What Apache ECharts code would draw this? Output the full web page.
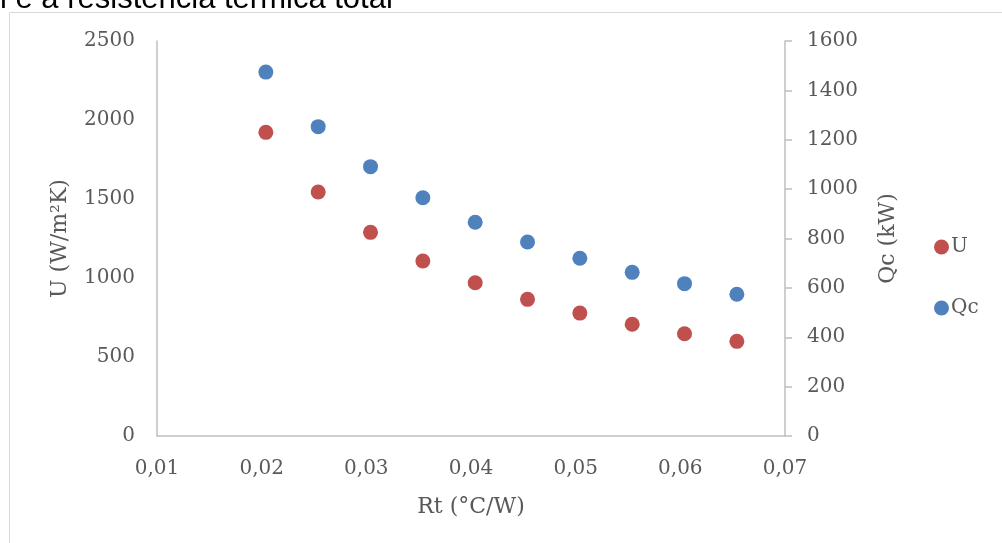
<!DOCTYPE html>
<html>
<head>
<meta charset="utf-8">
<script src="https://cdn.jsdelivr.net/npm/echarts@6/dist/echarts.min.js"></script>
<style>
  html, body { margin: 0; padding: 0; background: #fff; }
  #chart { width: 1002px; height: 543px; }
</style>
</head>
<body>
<div id="chart"></div>
<script>
// Rt (°C/W)
var rt = [0.0204, 0.0254, 0.0304, 0.0354, 0.0404, 0.0454, 0.0504, 0.0554, 0.0604, 0.0654];
// U (W/m²K)
var uVals = [1922, 1544, 1289, 1108, 970, 865, 778, 707, 647, 599];
// Qc (kW)
var qcVals = [1474, 1253, 1091, 965, 866, 786, 720, 663, 617, 574];

var chart = echarts.init(document.getElementById('chart'));

var axisFont = 'DejaVu Serif';
var gray = '#595959';
var lineGray = '#BFBFBF';

function pairs(xs, ys) {
    return xs.map(function (x, i) { return [x, ys[i]]; });
}

function plain(v) { return String(v); }

chart.setOption({
    animation: false,
    textStyle: { fontFamily: axisFont },
    graphic: [
        {
            type: 'rect',
            shape: { x: 9.5, y: 12.5, width: 1000, height: 540 },
            style: { fill: 'none', stroke: '#D9D9D9', lineWidth: 1 },
            silent: true
        },
        {
            type: 'text',
            style: {
                text: 'l e a resistência térmica total',
                x: 0,
                y: -1,
                verticalAlign: 'middle',
                font: '31px "Liberation Sans"',
                fill: '#000'
            },
            silent: true
        }
    ],
    legend: {
        orient: 'vertical',
        left: 929,
        top: 232,
        itemGap: 41,
        itemWidth: 15,
        itemHeight: 15,
        icon: 'circle',
        textStyle: { fontFamily: axisFont, fontSize: 20, color: gray, padding: [0, 0, 0, -3] },
        data: ['U', 'Qc']
    },
    grid: {
        left: 157,
        right: 217,
        top: 41,
        bottom: 107,
        containLabel: false
    },
    xAxis: {
        type: 'value',
        min: 0.01,
        max: 0.07,
        interval: 0.01,
        name: 'Rt (°C/W)',
        nameLocation: 'middle',
        nameGap: 60,
        nameTextStyle: { fontFamily: axisFont, fontSize: 22, color: gray },
        axisLine: { show: true, lineStyle: { color: lineGray, width: 1.5 } },
        axisTick: { show: false },
        splitLine: { show: false },
        axisLabel: {
            margin: 23,
            fontSize: 20,
            color: gray,
            formatter: function (v) { return v.toFixed(2).replace('.', ','); }
        }
    },
    yAxis: [
        {
            type: 'value',
            min: 0,
            max: 2500,
            interval: 500,
            name: 'U (W/m²K)',
            nameLocation: 'middle',
            nameGap: 86,
            nameTextStyle: { fontFamily: axisFont, fontSize: 22, color: gray },
            axisLine: { show: true, lineStyle: { color: lineGray, width: 1.5 } },
            axisTick: { show: false },
            splitLine: { show: false },
            axisLabel: { margin: 22, fontSize: 20, color: gray, formatter: plain }
        },
        {
            type: 'value',
            position: 'right',
            min: 0,
            max: 1600,
            interval: 200,
            name: 'Qc (kW)',
            nameLocation: 'middle',
            nameGap: 92,
            nameTextStyle: { fontFamily: axisFont, fontSize: 22, color: gray },
            axisLine: { show: true, lineStyle: { color: lineGray, width: 1.5 } },
            axisTick: { show: true, length: 7, lineStyle: { color: lineGray, width: 1.5 } },
            splitLine: { show: false },
            axisLabel: { margin: 22, fontSize: 20, color: gray, formatter: plain }
        }
    ],
    series: [
        {
            name: 'U',
            type: 'scatter',
            yAxisIndex: 0,
            symbolSize: 15,
            itemStyle: { color: '#C0504D', opacity: 1 },
            data: pairs(rt, uVals)
        },
        {
            name: 'Qc',
            type: 'scatter',
            yAxisIndex: 1,
            symbolSize: 15,
            itemStyle: { color: '#4F81BD', opacity: 1 },
            data: pairs(rt, qcVals)
        }
    ]
});
</script>
</body>
</html>
